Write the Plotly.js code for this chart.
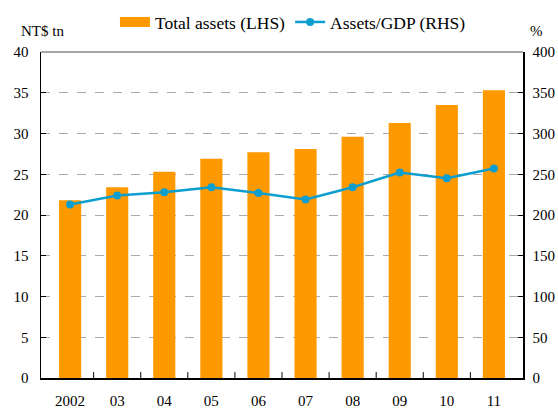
<!DOCTYPE html>
<html><head><meta charset="utf-8">
<script src="https://cdn.plot.ly/plotly-3.0.1.min.js"></script>
<style>body{margin:0;background:#fff}#c{width:558px;height:408px}</style>
</head><body><div id="c"></div>
<script>
const years = ["2002","03","04","05","06","07","08","09","10","11"];
const totalAssets = [21.8,23.4,25.3,26.9,27.7,28.1,29.6,31.3,33.5,35.3];
const assetsGdp = [213,224,228,234,227,219,234,252,245,257];

const fam = "Liberation Serif, Times New Roman, serif";
const F = (s) => ({family:fam, size:s, color:"#000"});
const traces = [
  {type:"bar", x:years, y:totalAssets, name:"Total assets (LHS)", marker:{color:"#FF9900"}, width:0.47, yaxis:"y", showlegend:false},
  {type:"scatter", mode:"lines", x:[null], y:[null], name:"Total assets (LHS)", line:{color:"#FF9900", width:10}, yaxis:"y", hoverinfo:"skip"},
  {type:"scatter", mode:"lines+markers", x:years, y:assetsGdp, name:"Assets/GDP (RHS)", yaxis:"y2",
   line:{color:"#0C9ECF", width:2.5}, marker:{color:"#0C9ECF", size:8}}
];
const layout = {
  width:558, height:408, margin:{l:41,r:35,t:52,b:30, autoexpand:false},
  paper_bgcolor:"#fff", plot_bgcolor:"#fff", font:F(15), showlegend:true,
  legend:{orientation:"h", xref:"container", yref:"container", x:0.525, xanchor:"center", y:0.99, yanchor:"top",
    font:F(17.5), tracegroupgap:0, bgcolor:"rgba(0,0,0,0)"},
  xaxis:{type:"category", categoryorder:"array", categoryarray:years, showline:true, linecolor:"#000", linewidth:1.5, ticks:"", showgrid:false, ticklabelstandoff:8, tickfont:F(15)},
  yaxis:{range:[0,40], dtick:5, showline:true, linecolor:"#000", linewidth:1.5, ticks:"inside", ticklen:5, tickcolor:"#000",
    showgrid:true, gridcolor:"#aaa", griddash:"dash", gridwidth:1, zeroline:false, ticklabelstandoff:8, tickfont:F(15)},
  yaxis2:{range:[0,400], dtick:50, overlaying:"y", side:"right", showline:true, linecolor:"#000", linewidth:1.5, ticks:"inside", ticklen:5, tickcolor:"#000",
    showgrid:false, zeroline:false, ticklabelstandoff:5, tickfont:F(15)},
  shapes:[
    {type:"line", xref:"paper", yref:"paper", x0:0, x1:1, y0:1, y1:1, line:{color:"#888", width:1.5}}
  ].concat(years.slice(0,-1).map((_,i)=>({type:"line", xref:"x", yref:"paper", x0:i+0.5, x1:i+0.5, y0:0, y1:0.018, line:{color:"#000", width:1}}))),
  annotations:[
    {text:"NT$ tn", xref:"paper", yref:"paper", x:-0.045, y:1.035, xanchor:"left", yanchor:"bottom", showarrow:false, font:F(15)},
    {text:"%", xref:"paper", yref:"paper", x:1.045, y:1.035, xanchor:"right", yanchor:"bottom", showarrow:false, font:F(15)}
  ]
};
Plotly.newPlot("c", traces, layout, {displayModeBar:false, staticPlot:true});
</script></body></html>
